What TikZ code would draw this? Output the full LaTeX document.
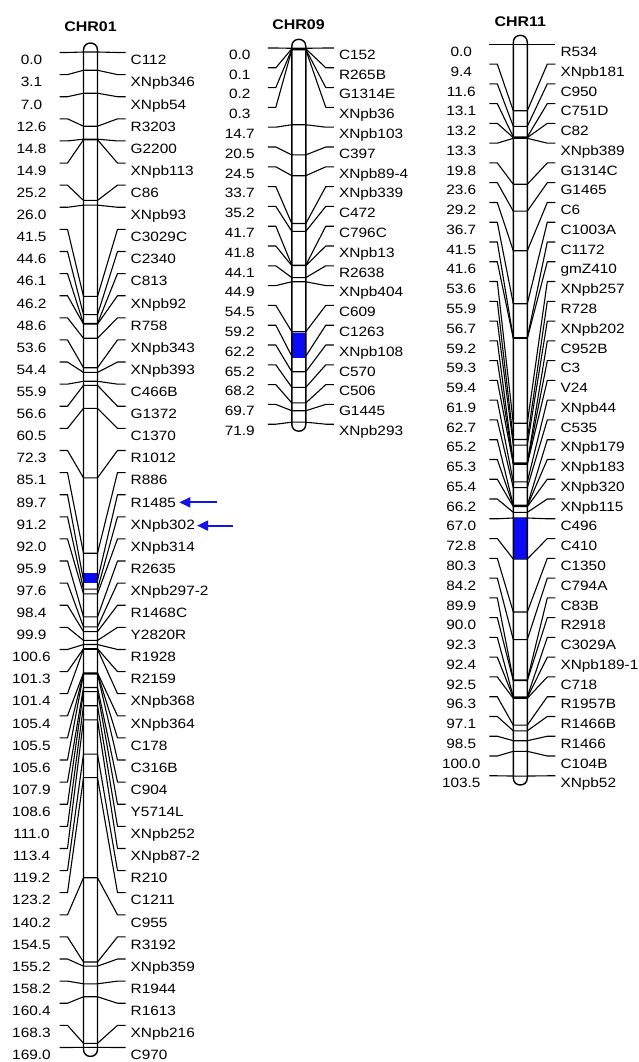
\documentclass[tikz,border=0pt]{standalone}
\usepackage{fontspec}
\setmainfont{Liberation Sans}[FakeStretch=1.14]
\usetikzlibrary{arrows.meta,calc}
\tikzset{
  lab/.style={font=\fontsize{13.5}{16}\selectfont, inner sep=0pt, anchor=base west},
  num/.style={font=\fontsize{13.5}{16}\selectfont, inner sep=0pt, anchor=base},
  ttl/.style={font=\bfseries\fontsize{14}{16}\selectfont, inner sep=0pt, anchor=base},
  conn/.style={line width=1.1pt, black, line join=round},
  bar/.style={line width=1.4pt, black},
  qtl/.style={fill={rgb,255:red,10;green,10;blue,245}},
  arr/.style={line width=1.8pt, draw={rgb,255:red,20;green,20;blue,230}, -{Triangle[length=11pt,width=10pt]}}
}
% #1 name, #2 cx, #3 y0, #4 px per cM, #5 first text centre, #6 row spacing, #7 stub offset, #8 list
\newcommand\drawchr[8]{%
  \foreach \cmv/\mk [count=\i from 0] in {#8} {%
    \pgfmathsetmacro\yc{#3+#4*\cmv}%
    \pgfmathsetmacro\yt{#5+#6*\i}%
    \pgfmathsetmacro\yl{\yt-#7}%
    \node[num] (#1n\i) at (#2-59,\yt+4.8) {\cmv};
    \node[lab] (#1r\i) at (#2+40,\yt+4.8) {\mk};
    \coordinate (#1a\i) at (#2-31,\yl);
    \coordinate (#1b\i) at (#2-23,\yl);
    \coordinate (#1c\i) at (#2-7,\yc);
    \coordinate (#1d\i) at (#2+7,\yc);
    \coordinate (#1e\i) at (#2+27,\yl);
    \coordinate (#1f\i) at (#2+35,\yl);
    \draw[conn] (#1a\i) -- (#1b\i) -- (#1c\i) -- (#1d\i) -- (#1e\i) -- (#1f\i);
  }%
}
% #1 cx, #2 y0, #3 yend
\newcommand\drawbar[3]{%
  \draw[bar] (#1-7,#2) -- (#1-7,#2-2) .. controls (#1-7,#2-11.3) and (#1+7,#2-11.3) .. (#1+7,#2-2)
     -- (#1+7,#3+2) .. controls (#1+7,#3+11.3) and (#1-7,#3+11.3) .. (#1-7,#3+2) -- cycle;
}
\begin{document}
\begin{tikzpicture}[x=1pt,y=-1pt]
\useasboundingbox (0,0) rectangle (639,1062);
\fill[white] (0,0) rectangle (639,1062);

% titles
\node[ttl] (t1) at (90.5,31.5) {CHR01};
\node[ttl] (t9) at (298.5,29.5) {CHR09};
\node[ttl] (t11) at (520.3,27) {CHR11};

% CHR01
\drawchr{c1}{90.5}{52}{5.89}{60}{22.11}{7.5}{0.0/C112, 3.1/XNpb346, 7.0/XNpb54, 12.6/R3203, 14.8/G2200, 14.9/XNpb113, 25.2/C86, 26.0/XNpb93, 41.5/C3029C, 44.6/C2340, 46.1/C813, 46.2/XNpb92, 48.6/R758, 53.6/XNpb343, 54.4/XNpb393, 55.9/C466B, 56.6/G1372, 60.5/C1370, 72.3/R1012, 85.1/R886, 89.7/R1485, 91.2/XNpb302, 92.0/XNpb314, 95.9/R2635, 97.6/XNpb297-2, 98.4/R1468C, 99.9/Y2820R, 100.6/R1928, 101.3/R2159, 101.4/XNpb368, 105.4/XNpb364, 105.5/C178, 105.6/C316B, 107.9/C904, 108.6/Y5714L, 111.0/XNpb252, 113.4/XNpb87-2, 119.2/R210, 123.2/C1211, 140.2/C955, 154.5/R3192, 155.2/XNpb359, 158.2/R1944, 160.4/R1613, 168.3/XNpb216, 169.0/C970}
\fill[qtl] (83.5,573.3) rectangle (97.5,583.3);
\drawbar{90.5}{52}{1047.4}

% CHR09
\drawchr{c9}{298.8}{48.3}{5.2}{54.5}{19.8}{6.5}{0.0/C152, 0.1/R265B, 0.2/G1314E, 0.3/XNpb36, 14.7/XNpb103, 20.5/C397, 24.5/XNpb89-4, 33.7/XNpb339, 35.2/C472, 41.7/C796C, 41.8/XNpb13, 44.1/R2638, 44.9/XNpb404, 54.5/C609, 59.2/C1263, 62.2/XNpb108, 65.2/C570, 68.2/C506, 69.7/G1445, 71.9/XNpb293}
\fill[qtl] (291.8,332.7) rectangle (305.8,358.3);
\drawbar{298.8}{48.3}{422.2}

% CHR11
\drawchr{c11}{520.3}{44.3}{7.07}{51.7}{19.77}{7.4}{0.0/R534, 9.4/XNpb181, 11.6/C950, 13.1/C751D, 13.2/C82, 13.3/XNpb389, 19.8/G1314C, 23.6/G1465, 29.2/C6, 36.7/C1003A, 41.5/C1172, 41.6/gmZ410, 53.6/XNpb257, 55.9/R728, 56.7/XNpb202, 59.2/C952B, 59.3/C3, 59.4/V24, 61.9/XNpb44, 62.7/C535, 65.2/XNpb179, 65.3/XNpb183, 65.4/XNpb320, 66.2/XNpb115, 67.0/C496, 72.8/C410, 80.3/C1350, 84.2/C794A, 89.9/C83B, 90.0/R2918, 92.3/C3029A, 92.4/XNpb189-1, 92.5/C718, 96.3/R1957B, 97.1/R1466B, 98.5/R1466, 100.0/C104B, 103.5/XNpb52}
\fill[qtl] (513.3,518) rectangle (527.3,559);
\drawbar{520.3}{44.3}{776}

% arrows
\coordinate (ar1) at ($(c1r20.east)+(41,0)$);
\coordinate (ar2) at ($(c1r21.east)+(38,0)$);
\draw[arr, shorten >=3pt] (ar1) -- (c1r20.east);
\draw[arr, shorten >=2pt] (ar2) -- (c1r21.east);
\end{tikzpicture}
\end{document}
